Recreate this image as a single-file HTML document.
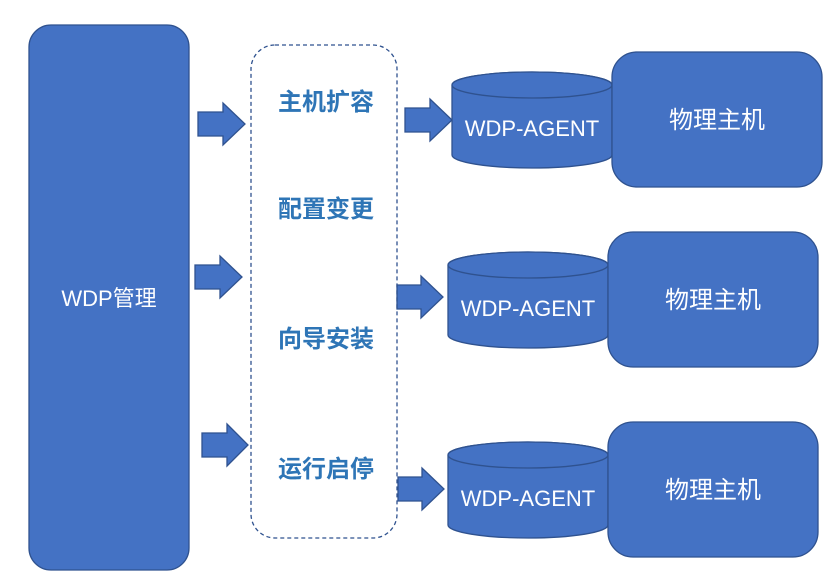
<!DOCTYPE html>
<html><head><meta charset="utf-8"><style>
body{margin:0;background:#fff}
text{font-family:"Liberation Sans","Noto Sans CJK SC",sans-serif}
</style></head><body>
<svg width="832" height="574" xmlns="http://www.w3.org/2000/svg">
<g fill="#4472C4" stroke="#2F528F" stroke-width="1.3">
<rect x="29" y="25" width="160" height="545" rx="22"/>
<!-- arrows -->
<path d="M198 112H223V103L245 124L223 145V136H198Z"/>
<path d="M195 265H220V256L242 277L220 298V289H195Z"/>
<path d="M202 433H227V424L248 445L227 466V457H202Z"/>
<path d="M405 108H430V99L452 120L430 141V132H405Z"/>
<path d="M397 285H421V276L443 297L421 318V309H397Z"/>
<path d="M398 477H422V468L444 489L422 510V501H398Z"/>
<!-- cylinders -->
<path d="M452 85V155A80 13 0 0 0 612 155V85A80 13 0 0 0 452 85Z"/>
<ellipse cx="532" cy="85" rx="80" ry="13"/>
<path d="M448 265V335A80 13 0 0 0 608 335V265A80 13 0 0 0 448 265Z"/>
<ellipse cx="528" cy="265" rx="80" ry="13"/>
<path d="M448 455V525A80 13 0 0 0 608 525V455A80 13 0 0 0 448 455Z"/>
<ellipse cx="528" cy="455" rx="80" ry="13"/>
<rect x="612" y="52" width="210" height="135" rx="25"/>
<rect x="608" y="232" width="210" height="135" rx="25"/>
<rect x="608" y="422" width="210" height="135" rx="25"/>
</g>
<rect x="251" y="45" width="146" height="493" rx="24" fill="none" stroke="#2F528F" stroke-width="1.3" stroke-dasharray="4,3"/>
<g fill="#fff" font-size="22" text-anchor="middle">
<text x="109" y="306">WDP管理</text>
<text x="532" y="136">WDP-AGENT</text>
<text x="528" y="316">WDP-AGENT</text>
<text x="528" y="506">WDP-AGENT</text>
<text x="717" y="128" font-size="24">物理主机</text>
<text x="713" y="308" font-size="24">物理主机</text>
<text x="713" y="498" font-size="24">物理主机</text>
</g>
<g fill="#2E75B6" font-size="24" font-weight="bold" text-anchor="middle">
<text x="326" y="110">主机扩容</text>
<text x="326" y="217">配置变更</text>
<text x="326" y="347">向导安装</text>
<text x="326" y="477">运行启停</text>
</g>
</svg>
</body></html>
